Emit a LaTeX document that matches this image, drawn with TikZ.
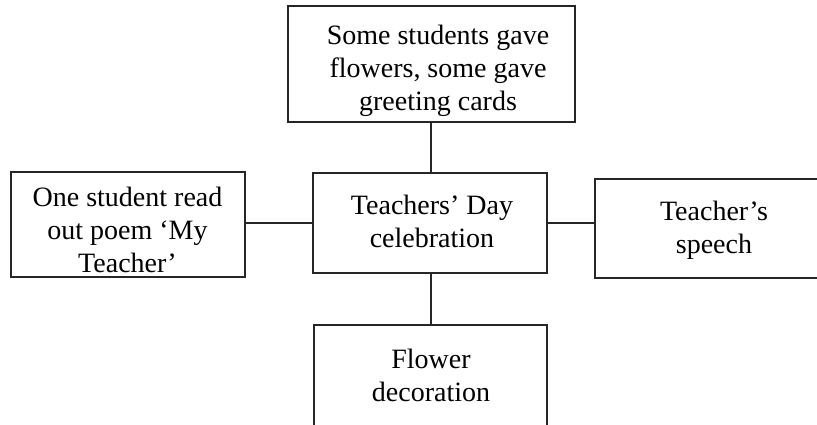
\documentclass[tikz,border=0pt]{standalone}
\usepackage{fontspec}
\setmainfont{Liberation Serif}
\begin{document}
\begin{tikzpicture}[x=1pt,y=-1pt,
  box/.style={draw=black!85, line width=1.8pt, rectangle, inner sep=0pt},
  lbl/.style={anchor=base, align=center, inner sep=0pt, font=\fontsize{28}{33}\selectfont},
  link/.style={draw=black!85, line width=1.8pt}]
\useasboundingbox (0,0) rectangle (817,424);
\begin{scope}
\clip (0,0) rectangle (817,424);
% boxes
\node[box, minimum width=287pt, minimum height=116pt] (T) at (431.5,64) {};
\node[box, minimum width=234pt, minimum height=100pt] (C) at (430,223) {};
\node[box, minimum width=234pt, minimum height=105pt] (L) at (128,224.5) {};
\node[box, minimum width=240pt, minimum height=99pt] (R) at (715,228.5) {};
\node[box, minimum width=233pt, minimum height=105pt] (B) at (430.5,377.5) {};
% texts (base = last line baseline)
\node[lbl] (tT) at (438,110) {Some students gave\\flowers, some gave\\greeting cards};
\node[lbl] (tC) at (432,247) {Teachers’ Day\\celebration};
\node[lbl] (tL) at (127.5,272) {One student read\\out poem ‘My\\Teacher’};
\node[lbl] (tR) at (714,253) {Teacher’s\\speech};
\node[lbl] (tB) at (431,401) {Flower\\decoration};
% connectors
\draw[link] (C.north -| 431,0) -- (T.south -| 431,0);
\draw[link] (C.south -| 431,0) -- (B.north -| 431,0);
\draw[link] (L.east |- C.west) -- (C.west);
\draw[link] (C.east) -- (R.west |- C.east);
\end{scope}
\end{tikzpicture}
\end{document}
